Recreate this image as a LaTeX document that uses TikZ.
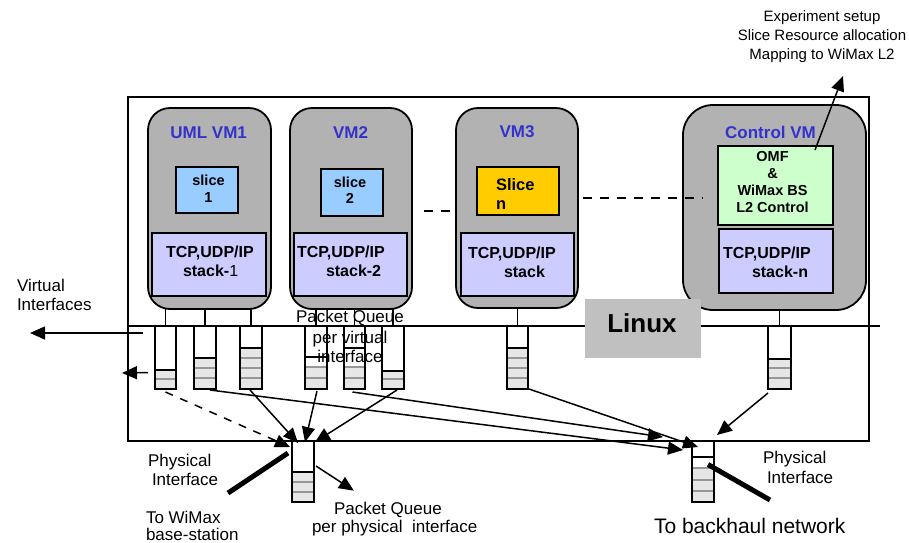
\documentclass[tikz,border=0pt]{standalone}
\usepackage{fontspec}
\setmainfont{Liberation Sans}
\usetikzlibrary{arrows.meta,calc}
\definecolor{vmgray}{RGB}{178,178,178}
\definecolor{stackc}{RGB}{204,204,255}
\definecolor{slicec}{RGB}{153,204,255}
\definecolor{slicen}{RGB}{255,204,0}
\definecolor{omfc}{RGB}{204,255,204}
\definecolor{titlec}{RGB}{51,51,204}
\definecolor{qgrayc}{RGB}{230,230,230}
\definecolor{qsepc}{RGB}{150,150,150}
\definecolor{linuxc}{RGB}{192,192,192}
\newcommand\fsz[1]{\fontsize{#1}{#1}\selectfont}
% name, xl, xr, ytop, ybot, yblack, yfill, separators
\newcommand\mkqueue[8]{%
  \pgfmathsetmacro\qw{#3-#2}\pgfmathsetmacro\qh{#5-#4}%
  \node[qnode, minimum width=\qw pt, minimum height=\qh pt] (#1) at ({(#2+#3)/2},{(#4+#5)/2}) {};
  \fill[qgrayc] (#2,#7) rectangle (#3,#5);
  \foreach \g in {#8} {\draw[qsep] (#2,\g) -- (#3,\g);}
  \draw[qline] (#2,#6) -- (#3,#6);
  \draw[qline] (#1.north west) |- (#1.south east) -- (#1.north east);
}
\begin{document}
\begin{tikzpicture}[x=1pt,y=-1pt,
  every node/.style={inner sep=0pt, outer sep=0pt},
  mainbox/.style={draw, line width=1.8pt},
  inbox/.style={draw, line width=1.6pt},
  vm/.style={draw, line width=1.8pt, fill=vmgray, rounded corners=22pt},
  qnode/.style={rectangle, inner sep=0pt},
  qline/.style={line width=1.8pt},
  qsep/.style={draw=qsepc, line width=1.4pt},
  conn/.style={line width=1.4pt},
  arr/.style={line width=1.5pt, -{Triangle[length=15pt,width=13pt]}},
  dots/.style={line width=1.5pt, dash pattern=on 9pt off 8pt},
  thick5/.style={line width=5pt},
  lbl/.style={font=\fsz{17}},
  vmtitle/.style={font=\bfseries\fsz{17}, text=titlec},
  stk/.style={font=\bfseries\fsz{16}},
  ]
\useasboundingbox (0,0) rectangle (909,542);

% host box and Linux line
\node[mainbox, minimum width=741pt, minimum height=344pt] (host) at (498.5,269) {};
\coordinate (lnl) at (128,326);
\coordinate (lnr) at (880,326);
\draw[conn] (lnl) -- (lnr);

% VMs
\node[vm, minimum width=123pt, minimum height=201pt] (vm1) at (209.5,208.5) {};
\node[vm, minimum width=122pt, minimum height=201pt] (vm2) at (351,208.5) {};
\node[vm, minimum width=122pt, minimum height=200pt] (vm3) at (517,208) {};
\node[vm, rounded corners=30pt, minimum width=183pt, minimum height=205pt] (cvm) at (774.5,207.5) {};

\node[vmtitle, anchor=base] (t1) at (208.7,138) {UML VM1};
\node[vmtitle, anchor=base] (t2) at (350.5,138) {VM2};
\node[vmtitle, anchor=base] (t3) at (517,137) {VM3};
\node[vmtitle, anchor=base] (t4) at (770.5,138) {Control VM};

% slices
\node[inbox, fill=slicec, minimum width=62pt, minimum height=46pt] (s1) at (207,190) {};
\node[anchor=base, font=\bfseries\fsz{14.5}] (s1a) at (208.5,185) {slice};
\node[anchor=base, font=\bfseries\fsz{14.5}] (s1b) at (208.5,202) {1};
\node[inbox, fill=slicec, minimum width=62pt, minimum height=47pt] (s2) at (352,192.5) {};
\node[anchor=base, font=\bfseries\fsz{14.5}] (s2a) at (350,187) {slice};
\node[anchor=base, font=\bfseries\fsz{14.5}] (s2b) at (350,203) {2};
\node[inbox, fill=slicen, minimum width=82pt, minimum height=48pt] (sn) at (518,191) {};
\node[anchor=base west, font=\bfseries\fsz{16.5}] (sna) at (496,190) {Slice};
\node[anchor=base west, font=\bfseries\fsz{16.5}] (snb) at (496,209) {n};
\node[inbox, fill=omfc, minimum width=115pt, minimum height=79pt] (omf) at (775.5,185.5) {};
\node[anchor=base, font=\bfseries\fsz{14.5}] (omf1) at (772.5,161.7) {OMF};
\node[anchor=base, font=\bfseries\fsz{14.5}] (omf2) at (772.5,178) {\&};
\node[anchor=base, font=\bfseries\fsz{14.5}] (omf3) at (772.5,195) {WiMax BS};
\node[anchor=base, font=\bfseries\fsz{14.5}] (omf4) at (772.5,212) {L2 Control};

% stacks
\node[inbox, fill=stackc, minimum width=114pt, minimum height=63pt] (st1) at (209,264.5) {};
\node[stk, anchor=base west] (st1a) at (166,257) {TCP,UDP/IP};
\node[stk, anchor=base west] (st1b) at (183,276) {stack-{\mdseries 1}};
\node[inbox, fill=stackc, minimum width=113pt, minimum height=63pt] (st2) at (350.5,264.5) {};
\node[stk, anchor=base west] (st2a) at (297,257) {TCP,UDP/IP};
\node[stk, anchor=base west] (st2b) at (326,276) {stack-2};
\node[inbox, fill=stackc, minimum width=113pt, minimum height=63pt] (st3) at (517.5,264.5) {};
\node[stk, anchor=base west] (st3a) at (468,258) {TCP,UDP/IP};
\node[stk, anchor=base west] (st3b) at (504,277) {stack};
\node[inbox, fill=stackc, minimum width=114pt, minimum height=64pt] (stn) at (776,261) {};
\node[stk, anchor=base west] (stna) at (723,258) {TCP,UDP/IP};
\node[stk, anchor=base west] (stnb) at (752,277) {stack-n};

% dotted continuation between VMs
\coordinate (dya) at (0,211);
\coordinate (dyb) at (0,198);
\draw[dots] ($(vm2.east |- dya)+(12,0)$) -- ($(vm3.west |- dya)+(-3,0)$);
\draw[dots] ($(vm3.east |- dyb)+(5,0)$) -- ($(omf.west |- dyb)+(-15,0)$);

% Linux box
\node[fill=linuxc, minimum width=116pt, minimum height=59pt] (linux) at (643,328.5) {};
\node[anchor=base, font=\bfseries\fsz{26}] (linuxt) at (642,332) {Linux};

% queues
\mkqueue{q1}{155}{176}{326}{389}{370}{370}{379}
\mkqueue{q2}{194}{216}{326}{389}{358}{358}{368,378}
\mkqueue{q3}{240}{262}{326}{389}{348}{348}{358,368,378}
\mkqueue{q4}{305}{327}{326}{389}{357}{367}{367,378}
\mkqueue{q5}{344}{365}{326}{389}{348}{367}{367,378}
\mkqueue{q6}{382}{404}{326}{389}{371}{371}{379}
\mkqueue{q7}{507}{528}{326}{389}{348}{348}{358,368,378}
\mkqueue{q8}{768}{791}{326}{389}{359}{359}{368,378}
\mkqueue{p1}{292}{314}{442}{502}{472}{472}{482,492}
\mkqueue{p2}{692}{714}{441}{502}{457}{468}{468,480,491}

% VM to virtual interface links
\foreach \v/\q in {vm1/q1,vm1/q2,vm1/q3,vm2/q4,vm2/q5,vm2/q6,vm3/q7,cvm/q8}
  \draw[conn] (\v.south -| \q.north) -- (\q.north);

% labels
\node[lbl, anchor=base west] (via) at (17,291) {Virtual};
\node[lbl, anchor=base west] (vib) at (17,310) {Interfaces};
\coordinate (vi1) at (30,333);
\coordinate (vi2) at (122,373);
\draw[arr] ($(q1.north west)+(-12,7)$) -- (vi1);
\draw[arr] ($(q1.west)+(-7,15)$) -- (vi2);

\node[lbl, anchor=base] (pqa) at (350,322) {Packet Queue};
\node[lbl, anchor=base] (pqb) at (350,343) {per virtual};
\node[lbl, anchor=base] (pqc) at (350,362) {interface};

\node[anchor=base, font=\fsz{15}] (ex1) at (822,21) {Experiment setup};
\node[anchor=base, font=\fsz{15}] (ex2) at (822,40) {Slice Resource allocation};
\node[anchor=base, font=\fsz{15}] (ex3) at (822,59) {Mapping to WiMax L2};
\coordinate (extip) at (843,76);
\draw[arr] ($(omf.north east)+(-18,4)$) -- (extip);

\node[lbl, anchor=base west] (phla) at (148,466) {Physical};
\node[lbl, anchor=base west] (phlb) at (152,485) {Interface};
\node[lbl, anchor=base west] (wma) at (146,523) {To WiMax};
\node[lbl, anchor=base west] (wmb) at (146,540) {base-station};
\node[lbl, anchor=base west] (ppa) at (334,514) {Packet Queue};
\node[lbl, anchor=base west] (ppb) at (312,532) {per physical\ \ interface};
\node[lbl, anchor=base west] (phra) at (763,463) {Physical};
\node[lbl, anchor=base west] (phrb) at (767,483) {Interface};
\node[anchor=base west, font=\fsz{21}] (bh) at (654,533) {To backhaul network};

% physical links (thick)
\coordinate (wmend) at (228,493);
\coordinate (bhend) at (770,500);
\draw[thick5] ($(p1.north west)+(-4,11)$) -- (wmend);
\draw[thick5] ($(p2.east)+(-6,-7)$) -- (bhend);

% queue to physical interface arrows
\draw[arr, dash pattern=on 8pt off 8pt] ($(q1.south)+(0,3)$) -- ($(p1.north)+(-13,5)$);
\draw[arr] ($(q3.south)+(-1,1)$) -- ($(p1.north)+(-5,1)$);
\draw[arr] ($(q4.south)+(1,2)$) -- ($(p1.north)+(2,0)$);
\draw[arr] ($(q6.south)+(4,1)$) -- ($(p1.north)+(12,0)$);
\draw[arr] ($(q2.south)+(5,1)$) -- ($(p2.north)+(-20,9)$);
\draw[arr] ($(q5.south)+(-2,3)$) -- ($(p2.north)+(-40,-4)$);
\draw[arr] ($(q7.south east)+(1,0)$) -- ($(p2.north)+(-5,6)$);
\draw[arr] ($(q8.south west)+(0,4)$) -- ($(p2.north)+(14,-6)$);
\draw[arr] ($(p1.east)+(2,-6)$) -- ($(ppa.north)+(-34,-11)$);
\end{tikzpicture}
\end{document}
